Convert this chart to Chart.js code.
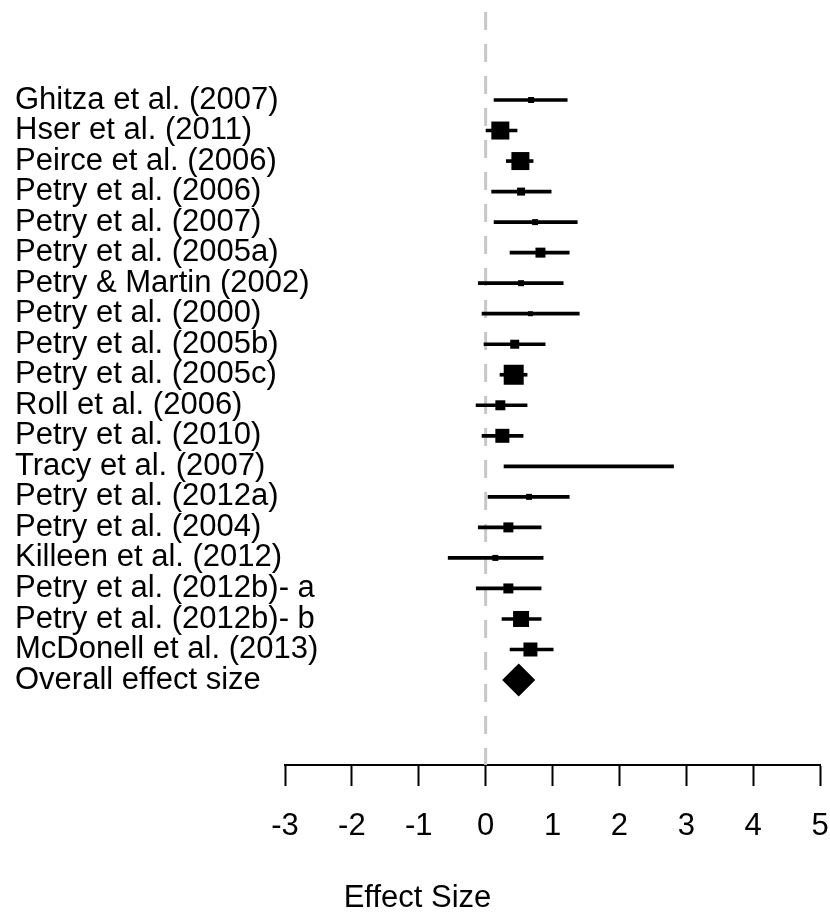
<!DOCTYPE html>
<html><head><meta charset="utf-8">
<script src="https://cdn.jsdelivr.net/npm/chart.js@4/dist/chart.umd.min.js"></script>
<style>html,body{margin:0;padding:0;background:#fff;} #wrap{width:830px;height:916px;}</style>
</head><body><div id="wrap"><canvas id="c" width="830" height="916"></canvas></div>
<script>
const studies = [
  'Ghitza et al. (2007)', 'Hser et al. (2011)', 'Peirce et al. (2006)', 'Petry et al. (2006)',
  'Petry et al. (2007)', 'Petry et al. (2005a)', 'Petry & Martin (2002)', 'Petry et al. (2000)',
  'Petry et al. (2005b)', 'Petry et al. (2005c)', 'Roll et al. (2006)', 'Petry et al. (2010)',
  'Tracy et al. (2007)', 'Petry et al. (2012a)', 'Petry et al. (2004)', 'Killeen et al. (2012)',
  'Petry et al. (2012b)- a', 'Petry et al. (2012b)- b', 'McDonell et al. (2013)'
];
const effect = [0.68, 0.22, 0.52, 0.53, 0.74, 0.82, 0.53, 0.67, 0.435, 0.42, 0.22, 0.25, 1.54, 0.65, 0.34, 0.145, 0.34, 0.53, 0.67];
const ciLow  = [0.126, 0.006, 0.31, 0.09, 0.126, 0.365, -0.11, -0.054, -0.024, 0.215, -0.143, -0.054, 0.275, 0.036, -0.11, -0.56, -0.14, 0.245, 0.365];
const ciHigh = [1.22, 0.47, 0.71, 0.98, 1.37, 1.25, 1.16, 1.40, 0.89, 0.62, 0.62, 0.56, 2.81, 1.25, 0.83, 0.86, 0.83, 0.83, 1.01];
const weights = [6, 18, 18, 8, 6, 10, 6, 5, 9, 20, 10, 14, 2, 6, 10, 6, 10, 16, 14];
const overallLabel = 'Overall effect size';
const overallEffect = 0.495;
const overallLow = 0.245;
const overallHigh = 0.74;
const xTicks = [-3, -2, -1, 0, 1, 2, 3, 4, 5];
const xTickLabels = ['-3', '-2', '-1', '0', '1', '2', '3', '4', '5'];
const axisTitle = 'Effect Size';

const rowLabels = studies.concat([overallLabel]);
const rowIndex = rowLabels.map((_, i) => i + 1);
const FONT = "'Liberation Sans', Arial, sans-serif";
const Y_MIN = -2.276, Y_MAX = 22.785;
const LABEL_WIDTH = 270;

Chart.defaults.font.family = FONT;

new Chart(document.getElementById('c').getContext('2d'), {
  type: 'scatter',
  data: {
    datasets: [
      {
        type: 'line',
        data: [{x: 0, y: Y_MIN}, {x: 0, y: Y_MAX}],
        borderColor: '#c8c8c8', borderWidth: 3, borderDash: [18, 14], borderDashOffset: 20,
        pointRadius: 0, order: 10
      },
      {
        type: 'bar', indexAxis: 'y',
        data: studies.map((s, i) => ({x: [ciLow[i], ciHigh[i]], y: i + 1})),
        backgroundColor: '#000', barThickness: 3, borderWidth: 0, borderSkipped: false, order: 5
      },
      {
        type: 'scatter',
        data: studies.map((s, i) => ({x: effect[i], y: i + 1})),
        pointStyle: 'rect', pointRadius: weights.map(w => w * 0.7071),
        backgroundColor: '#000', borderWidth: 0, order: 2
      },
      {
        type: 'scatter',
        data: [{x: overallEffect, y: rowLabels.length}],
        pointStyle: 'rectRot',
        pointRadius: (ctx) => {
          const xs = ctx.chart.scales.x;
          return (xs.getPixelForValue(overallHigh) - xs.getPixelForValue(overallLow)) / 2;
        },
        backgroundColor: '#000', borderWidth: 0, order: 1
      }
    ]
  },
  options: {
    responsive: false,
    animation: false,
    devicePixelRatio: 1,
    events: [],
    layout: {autoPadding: false, padding: {left: 15, right: 10, top: 0, bottom: 0}},
    plugins: {
      legend: {display: false},
      tooltip: {enabled: false},
      title: {
        display: true, position: 'bottom', text: axisTitle, color: '#000',
        font: {family: FONT, size: 31, weight: 'normal', lineHeight: 1.16},
        padding: {top: 0, bottom: 0}
      }
    },
    scales: {
      x: {
        type: 'linear', min: -3, max: 5, position: 'bottom', offset: false,
        afterBuildTicks: s => { s.ticks = xTicks.map(v => ({value: v})); },
        afterFit: s => { s.height = 115; s.paddingLeft = 0; s.paddingRight = 0; },
        ticks: {
          color: '#000', font: {family: FONT, size: 31}, padding: 22, maxRotation: 0, autoSkip: false,
          callback: (v) => xTickLabels[xTicks.indexOf(v)]
        },
        grid: {display: true, offset: false, drawOnChartArea: false, drawTicks: true, tickLength: 21, tickWidth: 2, tickColor: '#000'},
        border: {display: true, color: '#000', width: 2}
      },
      y: {
        type: 'linear', reverse: true, min: Y_MIN, max: Y_MAX, offset: false,
        afterBuildTicks: s => { s.ticks = rowIndex.map(v => ({value: v})); },
        afterFit: s => { s.width = LABEL_WIDTH; s.paddingTop = 0; s.paddingBottom = 0; },
        ticks: {
          autoSkip: false, mirror: true, crossAlign: 'near', padding: -LABEL_WIDTH, color: '#000',
          font: {family: FONT, size: 31},
          callback: (v) => rowLabels[v - 1] ?? ''
        },
        grid: {display: false, offset: false, drawTicks: false},
        border: {display: false}
      }
    }
  }
});
</script>
</body></html>
